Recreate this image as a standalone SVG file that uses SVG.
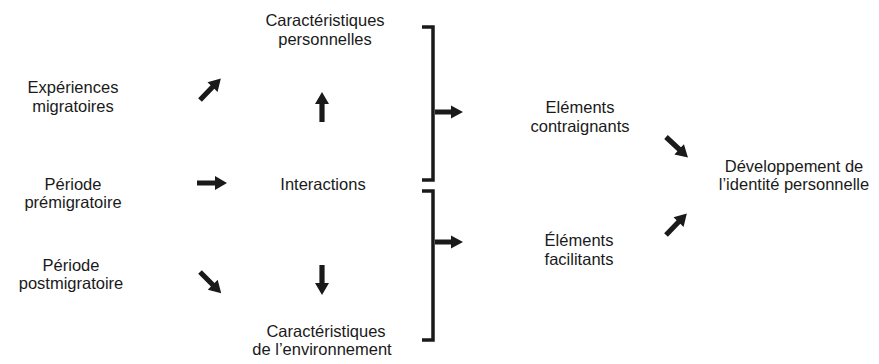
<svg xmlns="http://www.w3.org/2000/svg" xmlns:xlink="http://www.w3.org/1999/xlink" width="879" height="364" viewBox="0 0 879 364">
<style>
text{font-family:"Liberation Sans",Arial,sans-serif;font-size:16.5px;fill:#1a1a1a;text-anchor:middle}
.br{fill:none;stroke:#1a1a1a;stroke-width:3.5}
.a{fill:#1a1a1a}
</style>
<defs>
<polygon id="arr" points="0,-2.6 18,-2.6 18,-7 30,0 18,7 18,2.6 0,2.6"/>
<polygon id="arrs" points="0,-2.4 16,-2.4 16,-6.5 28,0 16,6.5 16,2.4 0,2.4"/>
</defs>
<rect width="879" height="364" fill="#fff"/>
<g id="n-experiences"><text x="73" y="93">Expériences</text><text x="73" y="112">migratoires</text></g>
<g id="n-premig"><text x="73" y="190">Période</text><text x="73" y="208">prémigratoire</text></g>
<g id="n-postmig"><text x="71" y="271">Période</text><text x="71" y="289">postmigratoire</text></g>
<g id="n-carpers"><text x="325" y="26">Caractéristiques</text><text x="325" y="45">personnelles</text></g>
<g id="n-interactions"><text x="323" y="190">Interactions</text></g>
<g id="n-carenv"><text x="326" y="337">Caractéristiques</text><text x="322" y="355">de l’environnement</text></g>
<g id="n-contraignants"><text x="580" y="113">Eléments</text><text x="580" y="132">contraignants</text></g>
<g id="n-facilitants"><text x="579" y="246">Éléments</text><text x="579" y="265">facilitants</text></g>
<g id="n-developpement"><text x="794" y="172">Développement de</text><text x="794" y="190">l’identité personnelle</text></g>
<g id="connectors">
<path class="br" d="M422,27 H433 V180 H422"/>
<path class="br" d="M422,191 H433 V340 H422"/>
<use class="a" href="#arr" transform="translate(200,100) rotate(-46)"/>
<use class="a" href="#arr" transform="translate(197,183)"/>
<use class="a" href="#arr" transform="translate(200,272) rotate(45)"/>
<use class="a" href="#arr" transform="translate(322,122) rotate(-90)"/>
<use class="a" href="#arr" transform="translate(322,265) rotate(90)"/>
<use class="a" href="#arrs" transform="translate(435,112)"/>
<use class="a" href="#arrs" transform="translate(435,242)"/>
<use class="a" href="#arr" transform="translate(666,137) rotate(43)"/>
<use class="a" href="#arr" transform="translate(666,235) rotate(-46)"/>
</g>
</svg>
